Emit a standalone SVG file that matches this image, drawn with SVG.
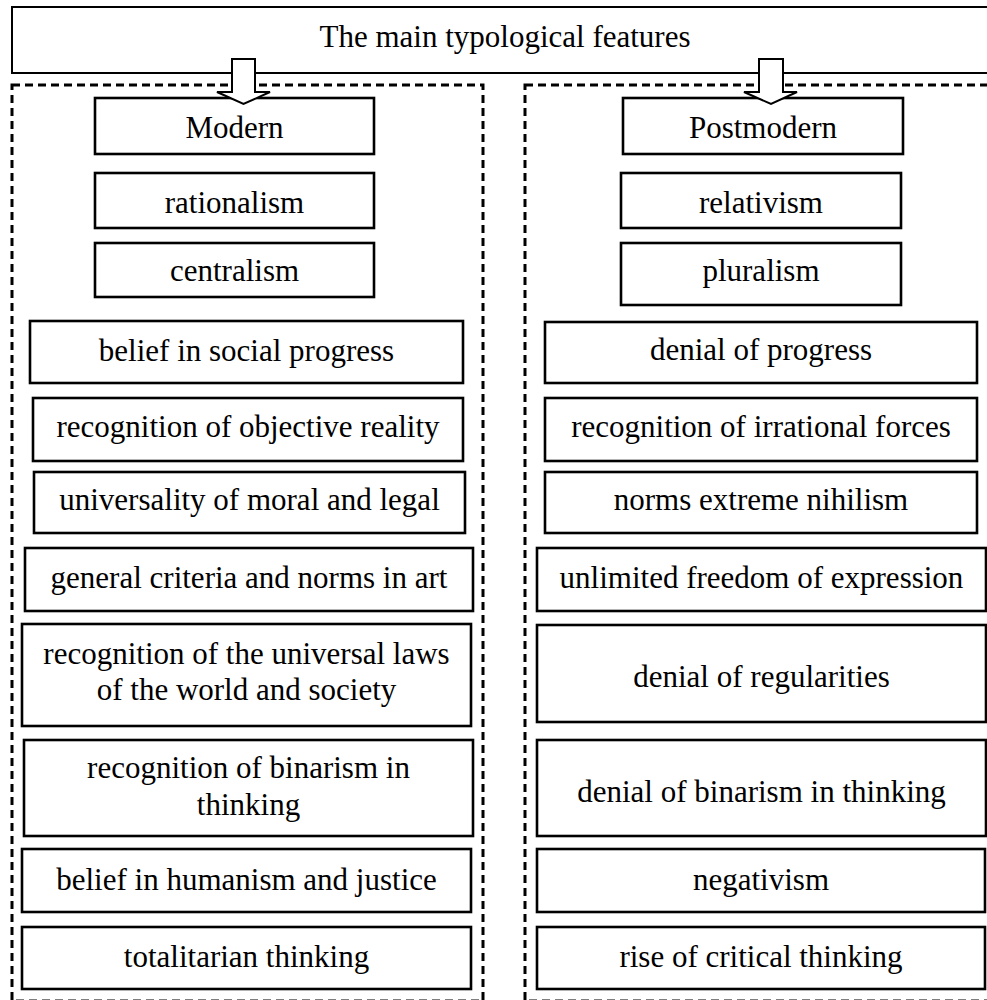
<svg xmlns="http://www.w3.org/2000/svg" width="987" height="1000" viewBox="0 0 987 1000">
<style>
  .bg { fill: #ffffff; }
  .box { fill: #ffffff; stroke: #000000; stroke-width: 2.6; }
  .top { fill: #ffffff; stroke: #000000; stroke-width: 2; }
  .cont { fill: none; stroke: #000000; stroke-width: 3; stroke-dasharray: 8 5; }
  .arrow { fill: #ffffff; stroke: #000000; stroke-width: 2; stroke-linejoin: miter; }
  text { font-family: "Liberation Serif", "Times New Roman", serif; font-size: 31px; fill: #000000; text-anchor: middle; }
</style>
<rect class="bg" x="0" y="0" width="987" height="1000"/>

<g id="title">
  <rect class="top" x="12" y="7" width="986" height="66"/>
  <text x="505" y="47">The main typological features</text>
</g>

<g id="modern-container">
  <rect class="cont" x="12" y="85" width="471" height="916"/>
</g>
<g id="postmodern-container">
  <rect class="cont" x="525" y="85" width="471" height="916"/>
</g>

<!-- Modern column -->
<g id="modern">
  <rect class="box" x="95" y="98" width="279" height="56"/>
  <text x="234.5" y="138">Modern</text>
</g>
<g id="rationalism">
  <rect class="box" x="95" y="173" width="279" height="55"/>
  <text x="234.5" y="213">rationalism</text>
</g>
<g id="centralism">
  <rect class="box" x="95" y="243" width="279" height="54"/>
  <text x="234.5" y="281">centralism</text>
</g>
<g id="belief-social-progress">
  <rect class="box" x="30" y="321" width="433" height="62"/>
  <text x="246.5" y="361">belief in social progress</text>
</g>
<g id="objective-reality">
  <rect class="box" x="33" y="398" width="430" height="63"/>
  <text x="248" y="437">recognition of objective reality</text>
</g>
<g id="universality">
  <rect class="box" x="34" y="472" width="431" height="61"/>
  <text x="249.5" y="510">universality of moral and legal</text>
</g>
<g id="general-criteria">
  <rect class="box" x="25" y="548" width="448" height="63"/>
  <text x="249" y="588">general criteria and norms in art</text>
</g>
<g id="universal-laws">
  <rect class="box" x="22" y="624" width="449" height="102"/>
  <text x="246.5" y="664">recognition of the universal laws</text>
  <text x="246.5" y="700">of the world and society</text>
</g>
<g id="recognition-binarism">
  <rect class="box" x="24" y="740" width="449" height="96"/>
  <text x="248.5" y="778">recognition of binarism in</text>
  <text x="248.5" y="815">thinking</text>
</g>
<g id="humanism">
  <rect class="box" x="22" y="849" width="449" height="63"/>
  <text x="246.5" y="890">belief in humanism and justice</text>
</g>
<g id="totalitarian">
  <rect class="box" x="22" y="927" width="449" height="62"/>
  <text x="246.5" y="967">totalitarian thinking</text>
</g>

<!-- Postmodern column -->
<g id="postmodern">
  <rect class="box" x="623" y="98" width="280" height="56"/>
  <text x="763" y="138">Postmodern</text>
</g>
<g id="relativism">
  <rect class="box" x="621" y="173" width="280" height="55"/>
  <text x="761" y="213">relativism</text>
</g>
<g id="pluralism">
  <rect class="box" x="621" y="243" width="280" height="62"/>
  <text x="761" y="281">pluralism</text>
</g>
<g id="denial-progress">
  <rect class="box" x="545" y="322" width="432" height="61"/>
  <text x="761" y="360">denial of progress</text>
</g>
<g id="irrational-forces">
  <rect class="box" x="545" y="398" width="432" height="63"/>
  <text x="761" y="437">recognition of irrational forces</text>
</g>
<g id="nihilism">
  <rect class="box" x="545" y="472" width="432" height="61"/>
  <text x="761" y="510">norms extreme nihilism</text>
</g>
<g id="unlimited-freedom">
  <rect class="box" x="537" y="548" width="449" height="63"/>
  <text x="761.5" y="588">unlimited freedom of expression</text>
</g>
<g id="regularities">
  <rect class="box" x="537" y="625" width="449" height="97"/>
  <text x="761.5" y="687">denial of regularities</text>
</g>
<g id="denial-binarism">
  <rect class="box" x="537" y="740" width="449" height="96"/>
  <text x="761.5" y="802">denial of binarism in thinking</text>
</g>
<g id="negativism">
  <rect class="box" x="537" y="849" width="448" height="63"/>
  <text x="761" y="890">negativism</text>
</g>
<g id="critical-thinking">
  <rect class="box" x="537" y="927" width="448" height="62"/>
  <text x="761" y="967">rise of critical thinking</text>
</g>

<g id="connectors">
  <path class="arrow" d="M232,59 L255,59 L255,92 L270,92 L243.5,104 L217,92 L232,92 Z"/>
  <path class="arrow" d="M759,59 L783,59 L783,92 L797,92 L771,104 L744,92 L759,92 Z"/>
</g>
</svg>
